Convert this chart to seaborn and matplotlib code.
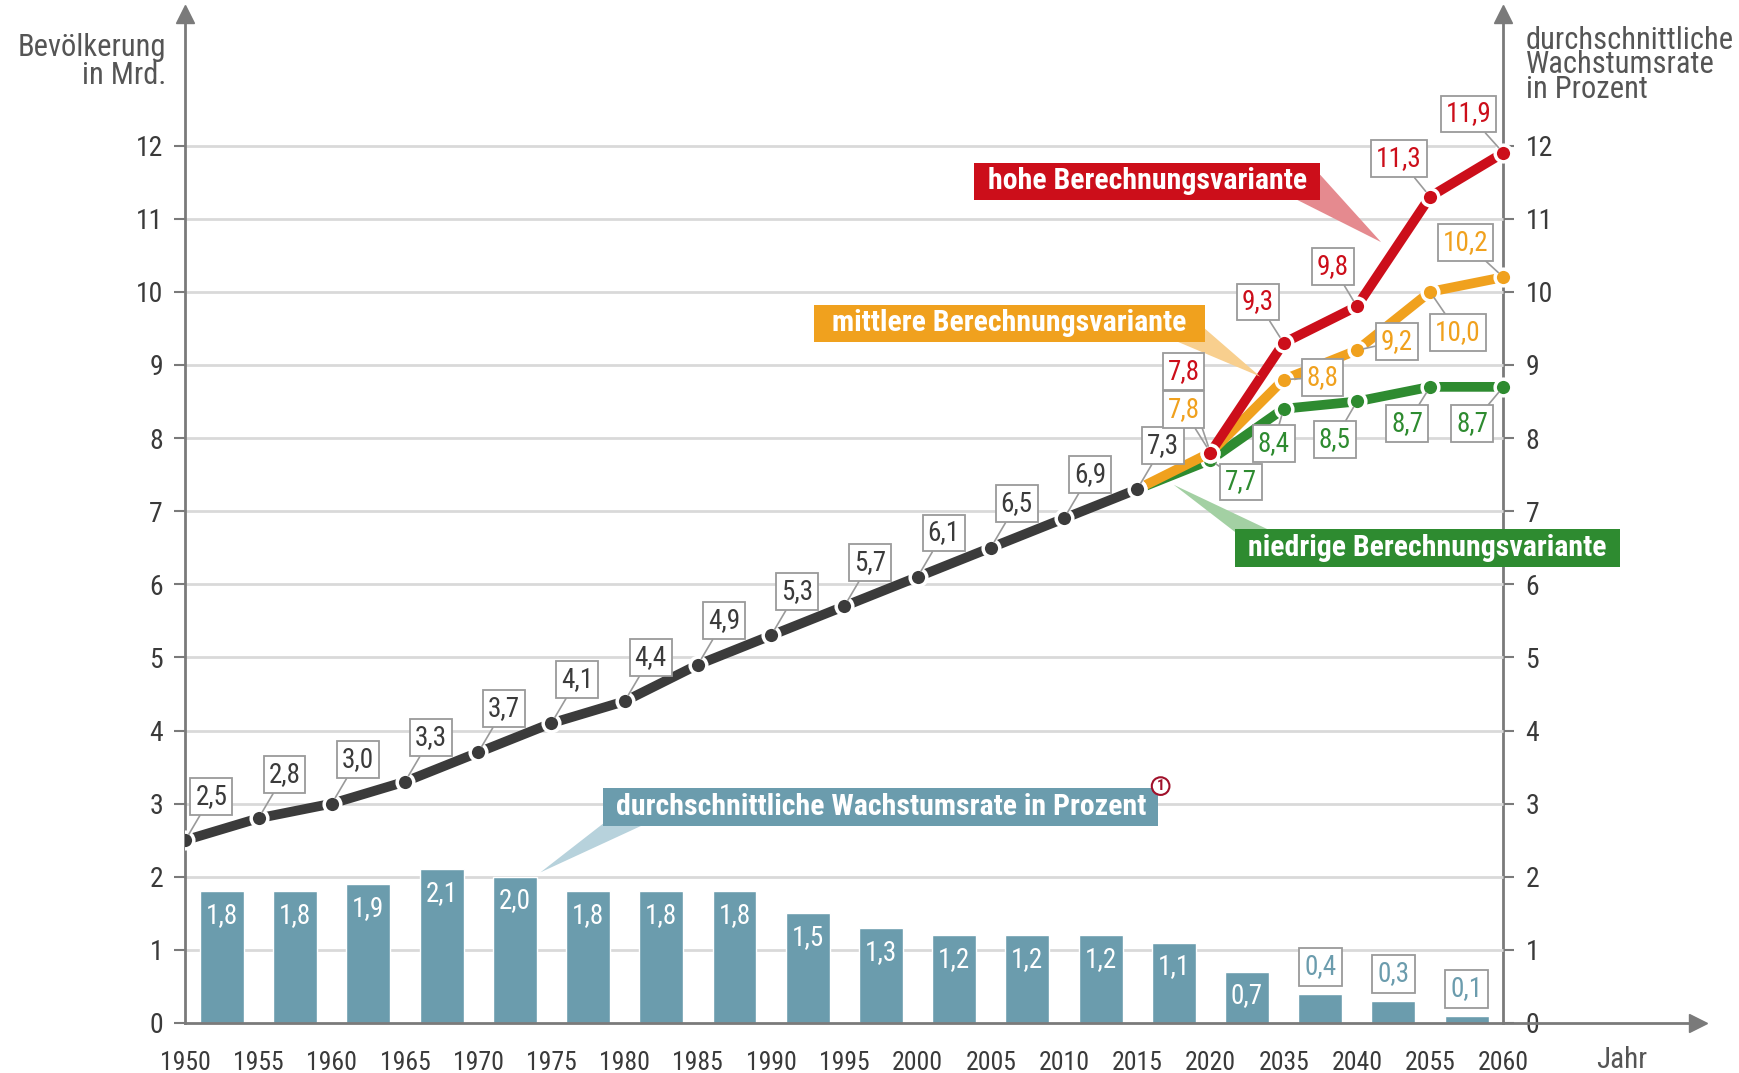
import numpy as np
import pandas as pd
import matplotlib
matplotlib.use("Agg")
import matplotlib.pyplot as plt
from matplotlib.patches import Polygon, Rectangle
from matplotlib import font_manager as fm
import seaborn as sns

# ---------------- data ----------------
years = ["1950", "1955", "1960", "1965", "1970", "1975", "1980", "1985", "1990",
         "1995", "2000", "2005", "2010", "2015", "2020", "2035", "2040", "2055", "2060"]
pop_hist = [2.5, 2.8, 3.0, 3.3, 3.7, 4.1, 4.4, 4.9, 5.3, 5.7, 6.1, 6.5, 6.9, 7.3]
pop_high = [7.8, 9.3, 9.8, 11.3, 11.9]          # 2020..2060
pop_mid = [7.3, 7.8, 8.8, 9.2, 10.0, 10.2]      # 2015..2060
pop_low = [7.3, 7.7, 8.4, 8.5, 8.7, 8.7]        # 2015..2060
growth = [1.8, 1.8, 1.9, 2.1, 2.0, 1.8, 1.8, 1.8, 1.5, 1.3, 1.2, 1.2, 1.2, 1.1,
          0.7, 0.4, 0.3, 0.1]

# ---------------- style ----------------
sns.set_style("white")
installed = {f.name for f in fm.fontManager.ttflist}
cands = ['Roboto Condensed', 'Liberation Sans Narrow', 'Open Sans Condensed',
         'DejaVu Sans Condensed', 'Roboto', 'DejaVu Sans']
fam = [c for c in cands if c in installed] or ['DejaVu Sans']
plt.rcParams['font.family'] = fam
plt.rcParams['font.stretch'] = 'condensed'

C_DARK = '#3b3b3b'
C_RED = '#cc0e1a'
C_ORANGE = '#f0a11e'
C_GREEN = '#2e8b30'
C_TEAL = '#6b9cad'
C_AX = '#7a7a7a'
C_GRID = '#d9d9d9'
C_BOX = '#9a9a9a'

fig = plt.figure(figsize=(17.4, 10.73), dpi=100)
ax = fig.add_axes([0.1065, 0.0466, 0.8694, 0.9404])

pos = np.arange(len(years))
XMAX, YMAX = 20.66, 13.8

ax.hlines(np.arange(1, 13), 0, pos[-1], color=C_GRID, lw=2, zorder=0)

bar_pos = pos[:-1] + 0.5
sns.barplot(x=bar_pos, y=growth, native_scale=True, width=0.6, color=C_TEAL,
            saturation=1, errorbar=None, ax=ax, zorder=2)

for bx, g in zip(bar_pos, growth):
    lbl = f"{g:.1f}".replace('.', ',')
    if g >= 0.6:
        ax.text(bx, g - 0.33, lbl, ha='center', va='center', color='white',
                fontsize=19.5, zorder=5)
    else:
        ax.text(bx, g + 0.37, lbl, ha='center', va='center', color=C_TEAL,
                fontsize=19.5, zorder=5,
                bbox=dict(boxstyle='square,pad=0.2', fc='white', ec=C_BOX, lw=1.3))

line_kw = dict(linewidth=7, marker='o', markersize=12, markeredgecolor='white',
               markeredgewidth=2.5, legend=False, ax=ax)
sns.lineplot(x=pos[13:], y=pop_low, color=C_GREEN, zorder=3, **line_kw)
sns.lineplot(x=pos[13:], y=pop_mid, color=C_ORANGE, zorder=4, **line_kw)
sns.lineplot(x=pos[14:], y=pop_high, color=C_RED, zorder=5, **line_kw)
sns.lineplot(x=pos[:14], y=pop_hist, color=C_DARK, zorder=6, **line_kw)


def label(x, y, v, dx, dy, color):
    ax.annotate(f"{v:.1f}".replace('.', ','), xy=(x, y), xytext=(dx, dy),
                textcoords='offset pixels', ha='center', va='center',
                color=color, fontsize=19.5, zorder=8,
                bbox=dict(boxstyle='square,pad=0.18', fc='white', ec=C_BOX, lw=1.3),
                arrowprops=dict(arrowstyle='-', color=C_BOX, lw=1.2,
                                shrinkA=0, shrinkB=5))


for i, v in enumerate(pop_hist):
    label(pos[i], v, v, 26, 44, C_DARK)

off_high = [(-27, 81), (-26, 41), (-24, 40), (-31, 38), (-35, 39)]
for x, v, (dx, dy) in zip(pos[14:], pop_high, off_high):
    label(x, v, v, dx, dy, C_RED)
off_mid = [(-27, 43), (39, 2), (40, 9), (28, -41), (-38, 35)]
for x, v, (dx, dy) in zip(pos[14:], pop_mid[1:], off_mid):
    label(x, v, v, dx, dy, C_ORANGE)
off_low = [(31, -22), (-10, -35), (-22, -38), (-23, -37), (-31, -37)]
for x, v, (dx, dy) in zip(pos[14:], pop_low[1:], off_low):
    label(x, v, v, dx, dy, C_GREEN)


def callout(text, x0, x1, y0, y1, fc, tail_fc, tail):
    ax.add_patch(Polygon(tail, closed=True, fc=tail_fc, ec='none', zorder=6.5,
                         clip_on=False))
    ax.add_patch(Rectangle((x0, y0), x1 - x0, y1 - y0, fc=fc, ec='none',
                           zorder=7, clip_on=False))
    ax.text((x0 + x1) / 2, (y0 + y1) / 2, text, ha='center', va='center',
            color='white', fontsize=21.5, fontweight='bold', zorder=7.5)

callout("hohe Berechnungsvariante", 10.77, 15.50, 11.26, 11.76, C_RED, '#e58a8f',
        [(15.10, 11.30), (15.50, 11.60), (16.33, 10.68)])
callout("mittlere Berechnungsvariante", 8.58, 13.92, 9.32, 9.82, C_ORANGE, '#f8cf8e',
        [(13.45, 9.36), (13.92, 9.50), (14.68, 8.84)])
callout("niedrige Berechnungsvariante", 14.33, 19.60, 6.24, 6.76, C_GREEN, '#a3d0a3',
        [(14.33, 6.72), (14.85, 6.72), (13.50, 7.36)])
callout("durchschnittliche Wachstumsrate in Prozent", 5.71, 13.29, 2.69, 3.22,
        C_TEAL, '#b7d2dc', [(5.71, 2.73), (6.30, 2.73), (4.85, 2.06)])
ax.text(13.32, 3.24, "1", ha='center', va='center', color='#a0102a', fontsize=11,
        fontweight='bold', zorder=8,
        bbox=dict(boxstyle='circle,pad=0.12', fc='white', ec='#a0102a', lw=1.5))

ax.set_xlim(0, XMAX)
ax.set_ylim(0, YMAX)
ax.set_xlabel("")
ax.set_ylabel("")
ax.set_xticks(pos)
ax.set_xticklabels(years)
ax.set_yticks(np.arange(0, 13))
ax.tick_params(axis='x', direction='out', length=10, width=1.5, color=C_AX,
               labelsize=18.5, labelcolor='#3a3a3a', pad=10)
ax.tick_params(axis='y', direction='out', length=8, width=1.5, color=C_AX,
               labelsize=20, labelcolor='#3a3a3a', pad=8)
for s in ['top', 'right']:
    ax.spines[s].set_visible(False)
for s in ['left', 'bottom']:
    ax.spines[s].set_color(C_AX)
    ax.spines[s].set_linewidth(2)

ax2 = ax.twinx()
ax2.set_ylim(0, YMAX)
ax2.set_yticks(np.arange(0, 13))
ax2.spines['right'].set_position(('data', pos[-1]))
ax2.spines['right'].set_color(C_AX)
ax2.spines['right'].set_linewidth(2)
for s in ['top', 'left', 'bottom']:
    ax2.spines[s].set_visible(False)
ax2.tick_params(axis='y', direction='out', length=8, width=1.5, color=C_AX,
                labelsize=20, labelcolor='#3a3a3a', pad=8)
# keep main axes (with callouts) above the secondary spine
ax2.set_zorder(0)
ax.set_zorder(1)
ax.patch.set_visible(False)

ax.plot([0], [YMAX], marker='^', ms=13, color=C_AX, clip_on=False, zorder=9)
ax.plot([pos[-1]], [YMAX], marker='^', ms=13, color=C_AX, clip_on=False, zorder=9)
ax.plot([XMAX], [0], marker='>', ms=13, color=C_AX, clip_on=False, zorder=9)

fig.text(166 / 1740, 1 - 33 / 1073, "Bevölkerung\nin Mrd.", ha='right', va='top',
         fontsize=22, color='#555555', linespacing=0.95)
fig.text(1526 / 1740, 1 - 26 / 1073, "durchschnittliche\nWachstumsrate\nin Prozent",
         ha='left', va='top', fontsize=22, color='#555555', linespacing=0.8)
fig.text(1622 / 1740, 1 - 1060 / 1073, "Jahr", ha='center', va='center',
         fontsize=21, color='#555555')

fig.savefig("out.png", dpi=100)
